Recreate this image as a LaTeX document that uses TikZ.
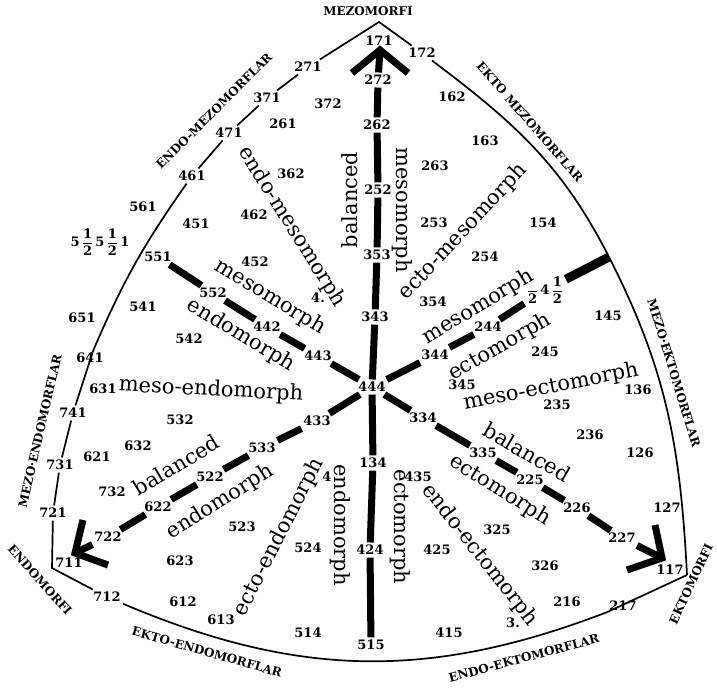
\documentclass[tikz,border=0pt]{standalone}
\usepackage{amsmath}
\usepackage{fontspec}
\setmainfont{DejaVu Serif}
\usepackage{tikz}
\usetikzlibrary{calc}
\newcommand{\Hf}[1]{$\dfrac{\text{#1}}{\text{2}}$}
\tikzset{
  num/.style={font=\fontsize{13}{13}\selectfont\bfseries, inner sep=1.2pt, outer sep=1.5pt},
  big/.style={font=\fontsize{21}{21}\selectfont, inner sep=0pt},
  zone/.style={font=\fontsize{12}{12}\selectfont\bfseries, inner sep=0pt},
  rim/.style={line width=1.7pt},
  axis/.style={line width=7pt},
  head/.style={line width=7pt, line join=miter},
  bar/.style={line width=9pt},
}

\begin{document}
\begin{tikzpicture}[x=1pt,y=1pt]
  \useasboundingbox (0,0) rectangle (717,-691);
  % somatotype numbers
  \foreach \t/\x/\y in {171/379/41, 172/422/53, 271/308/67, 272/378/80, 371/267/98,
      372/328/104, 261/283/124, 262/377/125, 162/452/97, 163/485/141, 263/435/166,
      471/229/133, 461/192/176, 362/291/174, 561/143/207, 252/378/190, 253/434/223,
      154/543/223, 462/254/215, 451/196/224, 254/485/257, 353/377/255, 551/158/257,
      452/255/262, 552/213/293, 354/433/302, 541/143/307, 343/375/317, 145/608/316,
      651/82/318, 442/267/327, 244/488/327, 542/189/339, 245/545/352, 344/435/355,
      443/318/356, 641/90/358, 345/462/385, 444/372/387, 631/103/389, 136/638/390,
      235/557/405, 741/73/413, 532/180/420, 433/317/421, 334/423/418, 236/590/435,
      632/138/446, 533/262/448, 621/97/457, 126/640/453, 335/483/453, 134/373/463,
      731/60/465, 522/210/477, 435/418/477, 225/530/480, 732/112/492, 622/158/507,
      226/577/508, 127/667/508, 721/53/513, 523/242/527, 325/497/530, 722/108/537,
      227/622/538, 524/308/548, 424/370/550, 425/437/550, 623/180/561, 711/69/563,
      326/545/566, 117/670/570, 712/107/597, 612/183/602, 216/567/602, 217/623/606,
      613/221/620, 514/308/633, 415/449/633, 515/371/645}
    \node[num] (n\t) at (\x,-\y) {\t};
  \node[num] (frag1) at (318,-298) {4.};
  \node[num] (frag2) at (327,-477) {4};
  \node[num] (frag3) at (513,-623) {3.};
  \node[num] (ulend) at (100,-242) {5\,\Hf{1}\,5\,\Hf{1}\,1};
  \node[num] (urend) at (545,-290) {\Hf{\phantom{1}}\,4\,\Hf{1}};

  % corners and arrow tips
  \coordinate (apex) at (379,-22);
  \coordinate (lc) at (52,-568);
  \coordinate (rc) at (687,-575);
  \coordinate (re) at (609,-257);
  \coordinate (tt) at (380,-50);
  \coordinate (ta) at (352,-73);
  \coordinate (tb) at (408,-73);
  \coordinate (llt) at (75,-553);
  \coordinate (lla) at (83,-520);
  \coordinate (llb) at (108,-565);
  \coordinate (lrt) at (662,-558);
  \coordinate (lra) at (655,-525);
  \coordinate (lrb) at (627,-570);

  % outline
  \draw[rim] (n271) -- (apex) -- (n172);
  \draw[rim] (n271) -- (n371) -- (n471) -- (n461);
  \draw[rim] (n461) to[bend right=6] (n641) -- (n741) -- (n731) -- (n721) -- (lc) -- (n712);
  \draw[rim] (n712) to[bend right=22] (n217) -- (rc);
  \draw[rim] (rc) to[out=93,in=-63] (re) to[out=117,in=-37] (n172);

  % axes
  \draw[axis] (n444) -- (n343) -- (n353) -- (n252) -- (n262) -- (n272) -- (tt);
  \draw[head] (ta) -- (tt) -- (tb);
  \draw[axis] (n444) -- (n134) -- (n424) -- (n515);
  \draw[axis] (n444) -- (n443) -- (n442) -- (n552) -- (n551);
  \draw[axis] (n444) -- (n433) -- (n533) -- (n522) -- (n622) -- (n722) -- (llt);
  \draw[head] (lla) -- (llt) -- (llb);
  \draw[axis] (n444) -- (n334) -- (n335) -- (n225) -- (n226) -- (n227) -- (lrt);
  \draw[head] (lra) -- (lrt) -- (lrb);
  \draw[axis] (n444) -- (n344) -- (n244) -- (urend);
  \draw[bar] (urend) -- (re);

  % region names
  \node[big, rotate=90] (balU) at (350,-200) {balanced};
  \node[big, rotate=-90] (mesU) at (402,-210) {mesomorph};
  \node[big, rotate=-58] (enme) at (292,-227) {endo-mesomorph};
  \node[big, rotate=47] (ecme) at (463,-232) {ecto-mesomorph};
  \node[big, rotate=-31] (mesL) at (270,-297) {mesomorph};
  \node[big, rotate=-31] (endL) at (241,-335) {endomorph};
  \node[big, rotate=-3] (meen) at (211,-390) {meso-endomorph};
  \node[big, rotate=31] (balL) at (176,-465) {balanced};
  \node[big, rotate=32] (endB) at (220,-502) {endomorph};
  \node[big, rotate=63] (ecen) at (279,-537) {ecto-endomorph};
  \node[big, rotate=-90] (endD) at (340,-525) {endomorph};
  \node[big, rotate=-90] (ectD) at (400,-527) {ectomorph};
  \node[big, rotate=-52] (enec) at (480,-555) {endo-ectomorph};
  \node[big, rotate=-30] (balR) at (527,-452) {balanced};
  \node[big, rotate=-32] (ectB) at (500,-490) {ectomorph};
  \node[big, rotate=31] (mesR) at (478,-307) {mesomorph};
  \node[big, rotate=30] (ectR) at (500,-347) {ectomorph};
  \node[big, rotate=11] (meec) at (551,-387) {meso-ectomorph};

  % outline names
  \node[zone] (mzf) at (368,-11) {MEZOMORFI};
  \node[zone, rotate=45] (enmz) at (214,-111) {ENDO-MEZOMORFLAR};
  \node[zone, rotate=-49] (ekmz) at (530,-122) {EKTO MEZOMORFLAR};
  \node[zone, rotate=-73] (mzek) at (674,-373) {MEZO·EKTOMORFLAR};
  \node[zone, rotate=65] (ekf) at (691,-584) {EKTOMORFI};
  \node[zone, rotate=15] (enek) at (524,-658) {ENDO-EKTOMORFLAR};
  \node[zone, rotate=-16] (eken) at (207,-652) {EKTO-ENDOMORFLAR};
  \node[zone, rotate=-48] (enf) at (40,-580) {ENDOMORFI};
  \node[zone, rotate=77] (mzen) at (40,-431) {MEZO·ENDOMORFLAR};
\end{tikzpicture}
\end{document}
